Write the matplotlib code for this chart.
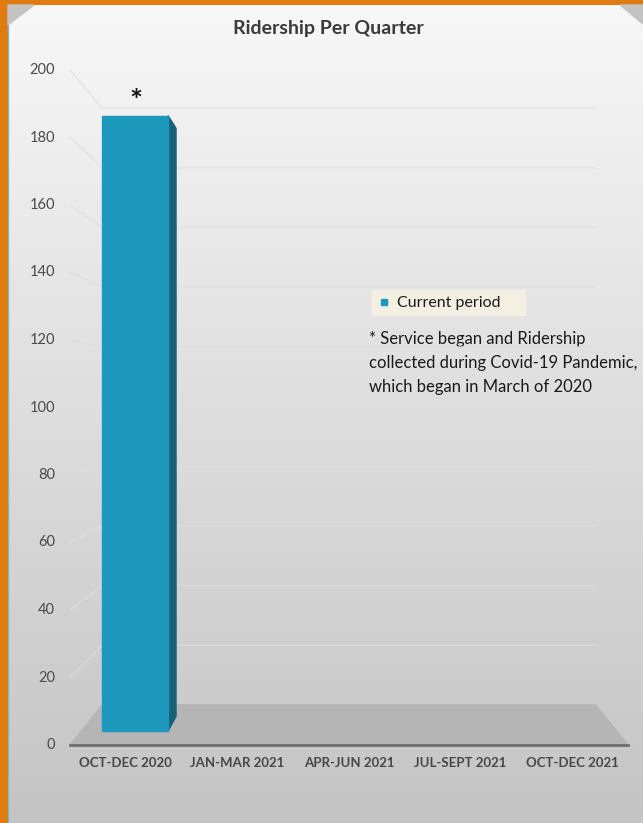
import matplotlib
matplotlib.use('Agg')
import matplotlib.pyplot as plt
import numpy as np
from matplotlib.patches import Polygon, Rectangle

plt.rcParams['font.family'] = ['Lato', 'DejaVu Sans']

quarters = ['OCT-DEC 2020', 'JAN-MAR 2021', 'APR-JUN 2021', 'JUL-SEPT 2021', 'OCT-DEC 2021']
riders = [190, np.nan, np.nan, np.nan, np.nan]
yticks = list(range(0, 201, 20))
title = 'Ridership Per Quarter'
series_name = 'Current period'
note = ('* Service began and Ridership\n'
        'collected during Covid-19 Pandemic,\n'
        'which began in March of 2020')

W, H, DPI = 643, 823, 100
fig = plt.figure(figsize=(W / DPI, H / DPI), dpi=DPI)

# ---- background (pixel coords) ----
bg = fig.add_axes([0, 0, 1, 1])
bg.set_xlim(0, W)
bg.set_ylim(H, 0)
bg.axis('off')
bg.add_patch(Rectangle((0, 0), W, H, color='#e07b10', zorder=0))
grad = np.linspace(0, 1, 256).reshape(-1, 1)
top = np.array([247, 247, 247]) / 255
bot = np.array([196, 196, 196]) / 255
img = top + (bot - top) * grad[..., None]
bg.imshow(img, extent=[8, W, H, 5], aspect='auto', zorder=1)
bg.plot([8, 8], [5, H], color='#7fb7d0', lw=1, zorder=2)
# bevel corners
bg.add_patch(Polygon([[8, 5], [34, 5], [8, 25]], color='#c3c3c3', zorder=2))
bg.add_patch(Polygon([[W, 5], [620, 5], [W, 24]], color='#c3c3c3', zorder=2))

# ---- chart axes: x in category units, y in ridership ----
ax = fig.add_axes([70 / W, (H - 745) / H, 558 / W, 675 / H])
ax.set_xlim(0, len(quarters))
ax.set_ylim(0, 200)
ax.axis('off')
ax.patch.set_alpha(0)

# one-point perspective toward the chart centre
VX, VY = len(quarters) / 2, 102.5
SHRINK = 0.1156


def proj(x, y, t):
    s = 1 - SHRINK * t
    return VX + s * (x - VX), VY + s * (y - VY)


def face(pts):
    return [proj(*p) for p in pts]


n = len(quarters)
grid_c = '#dedede'
for v in yticks[1:]:
    x0, y0 = proj(0, v, 0)
    x1, y1 = proj(0, v, 1)
    x2, y2 = proj(n, v, 1)
    ax.plot([x0, x1, x2], [y0, y1, y2], color=grid_c, lw=0.9, alpha=0.8,
            zorder=2, clip_on=False)

# floor
ax.add_patch(Polygon(face([(0, 0, 0), (n, 0, 0), (n, 0, 1), (0, 0, 1)]),
                     closed=True, color='#b5b5b5', zorder=3, clip_on=False))
ax.plot([0, n], [0, 0], color='#6e6e6e', lw=2, zorder=4, clip_on=False)

# bars
half = 0.31
t0, t1 = 0.35, 0.717
for i, v in enumerate(riders):
    if np.isnan(v):
        continue
    xl, xr = i + 0.5 - half, i + 0.5 + half
    side = face([(xr, 0, t0), (xr, 0, t1), (xr, v, t1), (xr, v, t0)])
    ax.add_patch(Polygon(side, closed=True, color='#156277', zorder=5, clip_on=False))
    front = face([(xl, 0, t0), (xr, 0, t0), (xr, v, t0), (xl, v, t0)])
    ax.add_patch(Polygon(front, closed=True, color='#1e99bd', zorder=6, clip_on=False))
    tx, ty = proj(i + 0.5, v, t0)
    ax.annotate('*', (tx, ty), xytext=(1, 0), textcoords='offset points',
                ha='center', va='bottom', fontsize=22, fontweight='bold',
                color='#111111', zorder=7)

# tick labels
for v in yticks:
    ax.annotate(str(v), (0, v), xytext=(-15, 0), textcoords='offset pixels',
                ha='right', va='center', fontsize=10.5, color='#4a4a4a',
                annotation_clip=False)
for i, q in enumerate(quarters):
    ax.annotate(q, (i + 0.5, 0), xytext=(0, -18), textcoords='offset pixels',
                ha='center', va='center', fontsize=9.5, fontweight='bold',
                color='#474747', annotation_clip=False)

# title, legend and footnote
bg.text(328, 28, title, ha='center', va='center', fontsize=14,
        fontweight='bold', color='#3a3a3a')
bg.add_patch(Rectangle((372, 290), 153, 25, color='#f3f0e3', zorder=3))
bg.plot([384], [302], marker='s', ms=5, color='#1e99bd', zorder=4)
bg.text(397, 303, series_name, ha='left', va='center', fontsize=11.5,
        color='#1a1a1a', zorder=4)
bg.text(369, 331, note, ha='left', va='top', fontsize=12, color='#1a1a1a',
        linespacing=1.6, zorder=4)

fig.savefig('out.png', dpi=DPI)
